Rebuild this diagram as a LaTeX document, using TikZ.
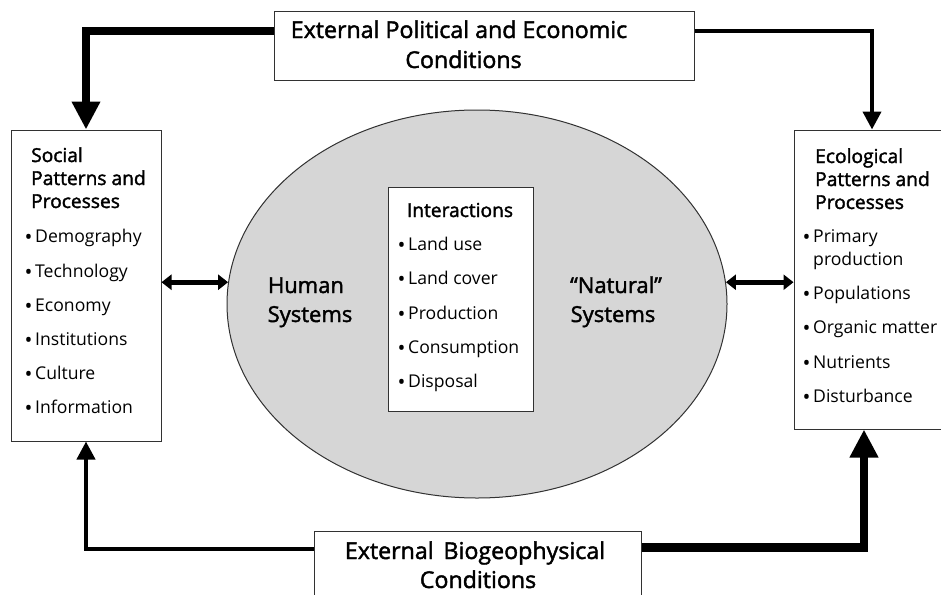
\documentclass[tikz,border=0pt]{standalone}
\usepackage{fontspec}
\setmainfont{Open Sans}
\newfontfamily\semib{Open Sans}[FakeBold=1.8]
\usetikzlibrary{shapes.geometric,arrows.meta}
\definecolor{ellfill}{RGB}{214,214,214}
\definecolor{boxline}{RGB}{50,50,50}
\tikzset{
  box/.style={draw=boxline, line width=1pt, fill=white, rectangle, inner sep=0pt},
  thickarrow/.style={line width=8.5pt, -{Triangle[length=28pt,width=27pt]}},
  thinarrow/.style={line width=4pt, -{Triangle[length=18pt,width=18pt]}},
  dblarrow/.style={line width=5pt, {Triangle[length=10pt,width=15pt]}-{Triangle[length=10pt,width=15pt]}},
  head/.style={anchor=base west, inner sep=0pt, font=\fontsize{19.2}{20}\selectfont\semib},
  item/.style={anchor=base west, inner sep=0pt, font=\fontsize{17.6}{19}\selectfont},
  bul/.style={anchor=base, inner sep=0pt, yshift=-2pt, font=\fontsize{21}{16}\selectfont},
  big/.style={anchor=base, inner sep=0pt, font=\fontsize{23.2}{24}\selectfont\semib},
  sys/.style={anchor=base, inner sep=0pt, font=\fontsize{22}{24}\selectfont\semib}
}
\begin{document}
\begin{tikzpicture}[x=1pt,y=-1pt]
\useasboundingbox (0,0) rectangle (941,594);
\fill[white] (0,0) rectangle (941,594);
% ellipse
\node[ellipse, draw=boxline, line width=1pt, fill=ellfill, minimum width=500pt, minimum height=388pt, inner sep=0pt] (ell) at (477,304) {};
% boxes
\node[box, minimum width=420pt, minimum height=68pt] (top) at (484,46) {};
\node[box, minimum width=150pt, minimum height=311pt] (social) at (86,285.5) {};
\node[box, minimum width=156pt, minimum height=299pt] (eco) at (872,279.5) {};
\node[box, minimum width=145pt, minimum height=224pt] (inter) at (460.5,299) {};
\node[box, minimum width=327pt, minimum height=80pt] (bot) at (477.5,571) {};
% connectors
\draw[thickarrow] ([yshift=15pt]top.west) -| (social.north);
\draw[thinarrow] ([yshift=15pt]top.east) -| (eco.north);
\draw[thinarrow] ([yshift=22.5pt]bot.west) -| (social.south);
\draw[thickarrow] ([yshift=23.5pt]bot.east) -| ([xshift=-8pt]eco.south);
\draw[dblarrow] (ell.175 -| social.east) -- (ell.175);
\draw[dblarrow] (ell.5) -- (ell.5 -| eco.west);
% top text
\node[big] (t1) at (459,38) {External Political and Economic};
\node[big] (t2) at (463.5,68) {Conditions};
% bottom text
\node[big] (b1) at (475,559) {External\, Biogeophysical};
\node[big] (b2) at (478,588) {Conditions};
% social
\node[head] (s1) at (31,162) {Social};
\node[head] (s2) at (31,185) {Patterns and};
\node[head] (s3) at (31,208) {Processes};
\foreach \t/\y [count=\i] in {Demography/242,Technology/277,Economy/311,Institutions/345,Culture/379,Information/413}{
  \node[bul] (sb\i) at (28.5,\y) {\textbullet};
  \node[item] (si\i) at (35,\y) {\t};
}
% ecological
\node[head] (e1) at (815,163) {Ecological};
\node[head] (e2) at (815,186) {Patterns and};
\node[head] (e3) at (815,209) {Processes};
\foreach \t/\y [count=\i] in {Primary/242,Populations/299,Organic matter/333,Nutrients/368,Disturbance/402}{
  \node[bul] (eb\i) at (806.5,\y) {\textbullet};
  \node[item] (ei\i) at (813,\y) {\t};
}
\node[item] (ei0) at (813,265) {production};
% interactions
\node[head, anchor=base] (i0) at (460,217) {Interactions};
\foreach \t/\y [count=\i] in {Land use/250,Land cover/284,Production/319,Consumption/353,Disposal/387}{
  \node[bul] (ib\i) at (401.5,\y) {\textbullet};
  \node[item] (ii\i) at (408,\y) {\t};
}
% systems
\node[sys] (h1) at (306,293) {Human};
\node[sys] (h2) at (310,322) {Systems};
\node[sys] (n1) at (616,293) {“Natural”};
\node[sys] (n2) at (613,322) {Systems};
\end{tikzpicture}
\end{document}
